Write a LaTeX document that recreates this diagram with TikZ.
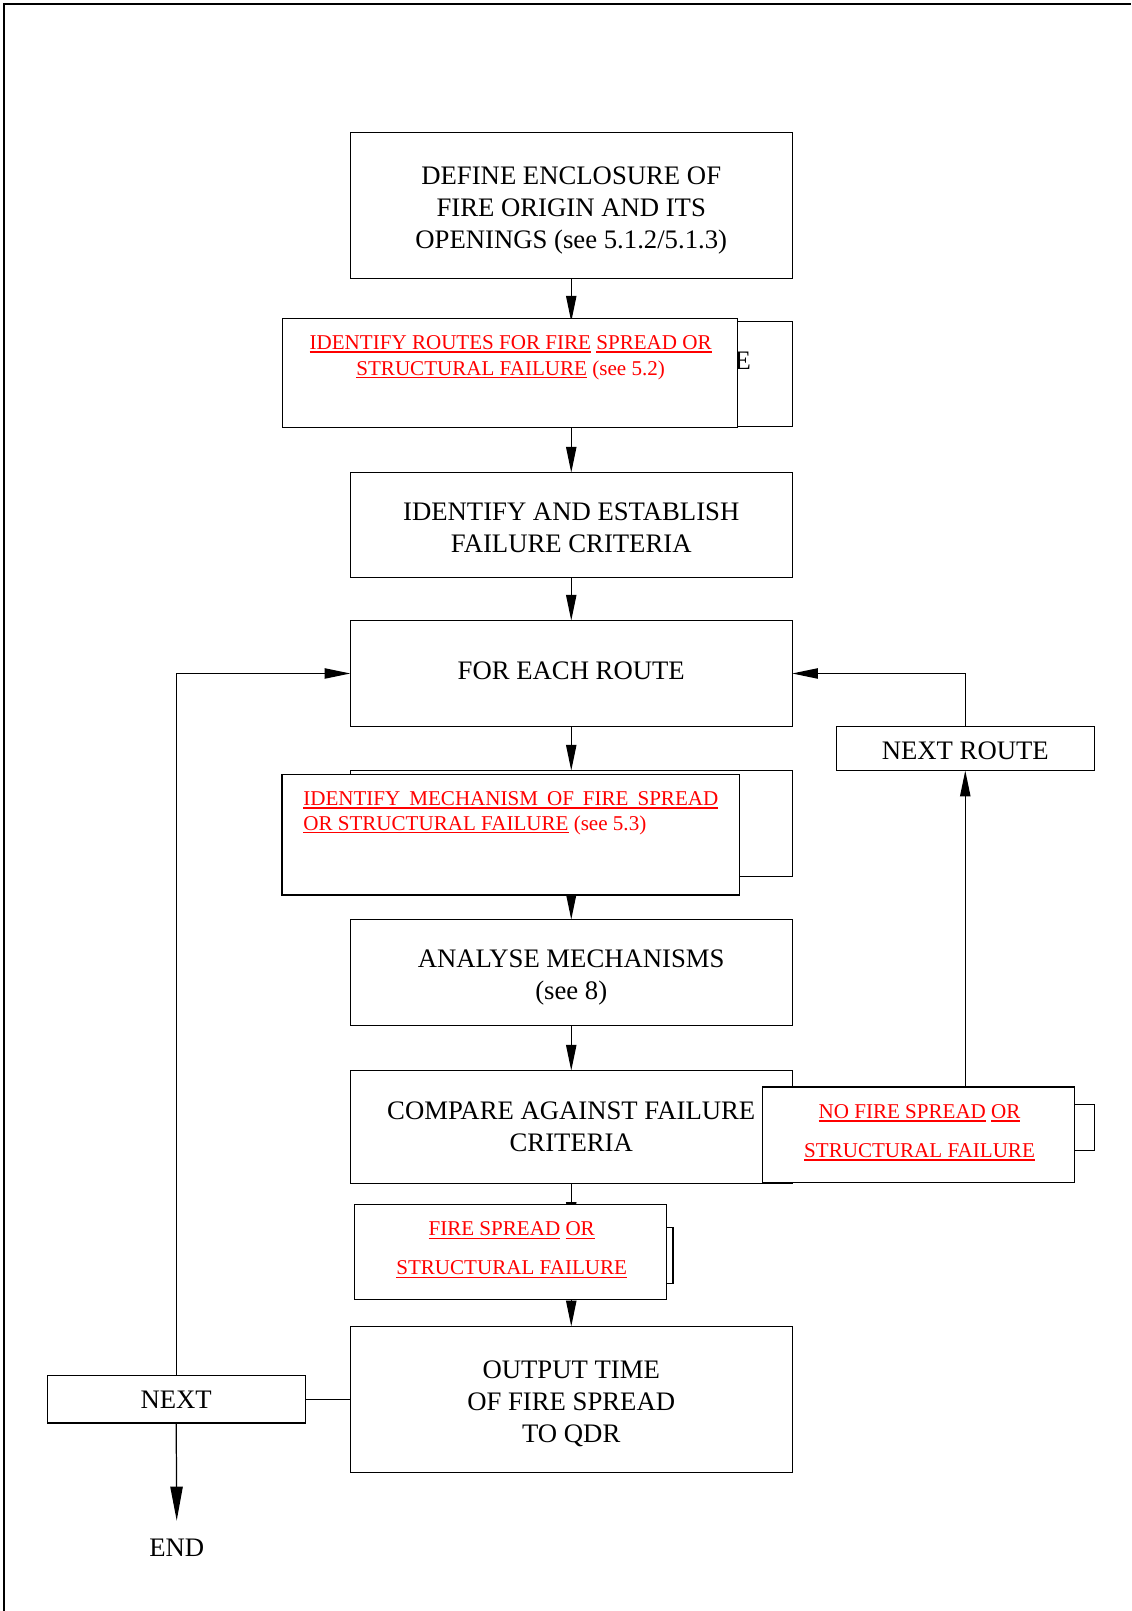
\documentclass[tikz,border=0pt]{standalone}
\usepackage{fontspec}
\setmainfont{Liberation Serif}
\usetikzlibrary{arrows.meta,calc}
\newcommand{\bigfnt}{\fontsize{26}{31}\selectfont}
\newcommand{\redfnt}{\fontsize{20.5}{25}\selectfont\color{red}}
\newcommand{\redul}[1]{\setbox0\hbox{#1}\rlap{\rule[-3pt]{\wd0}{1.3pt}}\box0\relax}
\begin{document}
\begin{tikzpicture}[x=1pt,y=-1pt,
  box/.style={draw, line width=1.2pt, fill=white, inner sep=0pt, outer sep=0pt, align=center, font=\bigfnt},
  txt/.style={inner sep=0pt, align=center, font=\bigfnt},
  arr/.style={line width=1.2pt, -{Triangle[length=25pt,width=10pt]}},
  ln/.style={line width=1.2pt},
  redtxt/.style={inner sep=0pt, align=center, font=\redfnt},
]
\useasboundingbox (0,0) rectangle (1101,1568);
\draw[line width=1.8pt] (4,1568) -- (4,4) -- (1101,4);

% back boxes
\node[box, minimum width=430pt, minimum height=102pt] (b2back) at (556,364) {};
\node[font=\bigfnt, inner sep=0pt] (ehid) at (723,351) {E};
\node[box, minimum width=430pt, minimum height=103pt] (b5back) at (556,801.5) {};
\node[box, minimum width=265pt, minimum height=45pt] (noback) at (932.5,1097.5) {};
\node[box, minimum width=255pt, minimum height=54pt] (fireback) at (527.5,1222) {};

% main boxes
\node[box, minimum width=430pt, minimum height=142pt,
  label={[txt, name=b1t, yshift=-5pt]center:DEFINE ENCLOSURE OF\\FIRE ORIGIN AND ITS\\OPENINGS (see 5.1.2/5.1.3)}] (b1) at (556,200) {};
\node[box, minimum width=430pt, minimum height=102pt,
  label={[txt, name=b3t, yshift=-2.5pt]center:IDENTIFY AND ESTABLISH\\FAILURE CRITERIA}] (b3) at (556,511) {};
\node[box, minimum width=430pt, minimum height=103pt,
  label={[txt, name=b4t, yshift=3pt]center:FOR EACH ROUTE}] (b4) at (556,655.5) {};
\node[box, minimum width=430pt, minimum height=103pt,
  label={[txt, name=b6t, yshift=-5pt]center:ANALYSE MECHANISMS\\(see 8)}] (b6) at (556,946.5) {};
\node[box, minimum width=430pt, minimum height=110pt,
  label={[txt, name=b7t]center:COMPARE AGAINST FAILURE\\CRITERIA}] (b7) at (556,1097) {};
\node[box, minimum width=430pt, minimum height=142pt,
  label={[txt, name=b8t, yshift=-4pt]center:OUTPUT TIME\\OF FIRE SPREAD\\TO QDR}] (b8) at (556,1362) {};
\node[box, minimum width=251pt, minimum height=43pt,
  label={[txt, name=nextroutet, yshift=-2pt]center:NEXT ROUTE}] (nextroute) at (939.5,728.5) {};
\node[box, minimum width=251pt, minimum height=46pt] (next) at (171.5,1362) {NEXT};
\node[font=\bigfnt, inner sep=0pt] (endlbl) at (172,1506) {END};
\coordinate (endtip) at (172,1480);

% connectors
\draw[arr] (b1.south) -- (b2back.north);
\draw[arr] (b2back.south) -- (b3.north);
\draw[arr] (b3.south) -- (b4.north);
\draw[arr] (b4.south) -- (b5back.north);
\draw[arr] (b5back.south) -- (b6.north);
\draw[arr] (b6.south) -- (b7.north);
\draw[arr] (b7.south) -- (b7.south |- fireback.north);
\draw[arr] (b8.north |- fireback.south) -- (b8.north);
\draw[arr] (nextroute.south |- noback.north) -- (nextroute.south);
\draw[arr] (nextroute.north) |- (b4.east);
\draw[arr] (next.north) |- (b4.west);
\draw[ln] (next.east) -- (b8.west);
\draw[line width=1.2pt, -{Triangle[length=33pt,width=12pt]}] (next.south) -- (endtip);

% front (red) boxes
\node[box, minimum width=443pt, minimum height=106pt] (b2) at (496.5,363) {};
\node[redtxt] (b2t) at (497,348) {\redul{IDENTIFY ROUTES FOR FIRE} \redul{SPREAD OR}\\\redul{STRUCTURAL FAILURE} (see 5.2)};
\node[box, minimum width=445pt, minimum height=117pt] (b5) at (497,812.5) {};
\node[redtxt, align=left, anchor=west, font=\fontsize{20.5}{24}\selectfont\color{red}] (b5t) at (295,791.5) {\redul{\makebox[404pt][s]{IDENTIFY MECHANISM OF FIRE SPREAD}}\\\redul{OR STRUCTURAL FAILURE} (see 5.3)};
\node[box, minimum width=304pt, minimum height=93pt] (nofire) at (894,1104.5) {};
\node[redtxt, font=\fontsize{20.5}{38}\selectfont\color{red}] (nofiret) at (895,1102.5) {\redul{NO FIRE SPREAD} \redul{OR}\\\redul{STRUCTURAL FAILURE}};
\node[box, minimum width=304pt, minimum height=93pt] (fire) at (497,1218.5) {};
\node[redtxt, font=\fontsize{20.5}{38}\selectfont\color{red}] (firet) at (498,1216.5) {\redul{FIRE SPREAD} \redul{OR}\\\redul{STRUCTURAL FAILURE}};
\end{tikzpicture}
\end{document}
